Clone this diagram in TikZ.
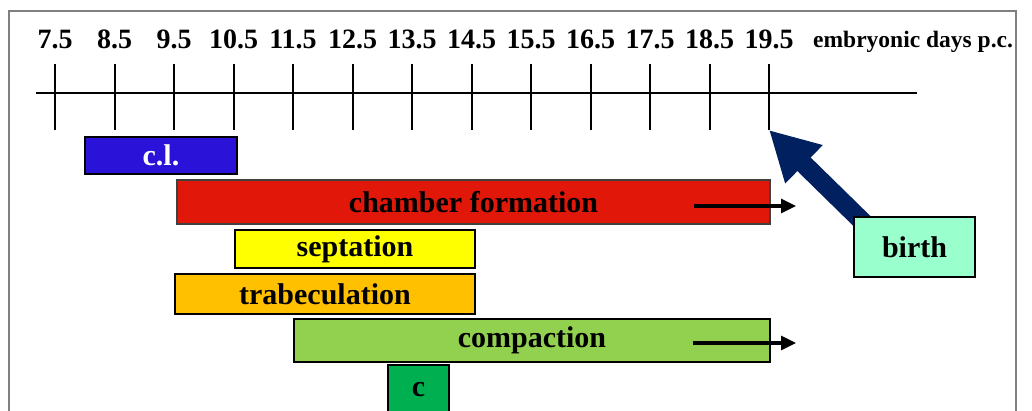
\documentclass[tikz,border=0pt]{standalone}
\usepackage{fontspec}
\setmainfont{Liberation Serif}
\usetikzlibrary{arrows.meta}
\definecolor{clblue}{HTML}{2B12D9}
\definecolor{chred}{HTML}{E01709}
\definecolor{septyel}{HTML}{FFFF00}
\definecolor{trabor}{HTML}{FFC000}
\definecolor{compgr}{HTML}{92D050}
\definecolor{cgreen}{HTML}{00B050}
\definecolor{birthaq}{HTML}{99FFCC}
\definecolor{navyarr}{HTML}{002060}
\begin{document}
\begin{tikzpicture}[x=1pt,y=-1pt,
  bar/.style={draw=black,line width=2.2pt,inner sep=0pt,font=\bfseries\fontsize{30}{32}\selectfont},
  ticklabel/.style={anchor=base,inner sep=0pt,font=\bfseries\fontsize{28}{30}\selectfont},
  tickline/.style={line width=2pt,black},
  smallarrow/.style={line width=3.2pt,-{Triangle[width=14pt,length=15pt]}},
  bigarrow/.style={navyarr,line width=19pt,-{Triangle[width=50pt,length=49pt]}}]
\useasboundingbox (0,0) rectangle (1032,410);
\clip (0,0) rectangle (1032,410);
% frame
\draw[gray,line width=1.5pt] (9,11) rectangle (1016,425);
% axis
\coordinate (axL) at (36,93);
\coordinate (axR) at (917,93);
\draw[tickline] (axL) -- (axR);
\foreach \lab [count=\i from 0] in {7.5,8.5,9.5,10.5,11.5,12.5,13.5,14.5,15.5,16.5,17.5,18.5,19.5} {
  \coordinate (tt\i) at ({55+59.5*\i},64);
  \coordinate (tb\i) at ({55+59.5*\i},130);
  \draw[tickline] (tt\i) -- (tb\i);
  \node[ticklabel] (l\i) at ({55+59.5*\i},48) {\lab};
}
\node[anchor=base west,inner sep=0pt,font=\bfseries\fontsize{23.5}{25}\selectfont] (unit) at (813,47) {embryonic days p.c.};
% bars
\node[bar,fill=clblue,text=white,minimum width=152pt,minimum height=37pt] (cl) at (161,155.5) {c.l.};
\node[bar,fill=chred,draw=black!75,line width=1.3pt,minimum width=593pt,minimum height=44pt] (chamber) at (473.5,202) {chamber formation};
\node[bar,fill=septyel,minimum width=240pt,minimum height=38pt] (sept) at (355,249) {septation};
\node[bar,fill=trabor,minimum width=300pt,minimum height=40pt] (trab) at (325,294) {trabeculation};
\node[bar,fill=compgr,minimum width=476pt,minimum height=43pt] (comp) at (532,340.5) {compaction};
\node[bar,fill=cgreen,minimum width=61pt,minimum height=49pt] (c) at (418.5,389.5) {c};
% arrows in bars
\coordinate (chA) at (694,206);
\coordinate (chB) at (796,206);
\draw[smallarrow] (chA) -- (chB);
\coordinate (coA) at (693,343);
\coordinate (coB) at (796,343);
\draw[smallarrow] (coA) -- (coB);
% birth
\coordinate (birthstart) at (866,225);
\draw[bigarrow] (birthstart) -- (tb12);
\node[bar,fill=birthaq,minimum width=121pt,minimum height=60pt] (birth) at (914.5,247) {birth};
\end{tikzpicture}
\end{document}
